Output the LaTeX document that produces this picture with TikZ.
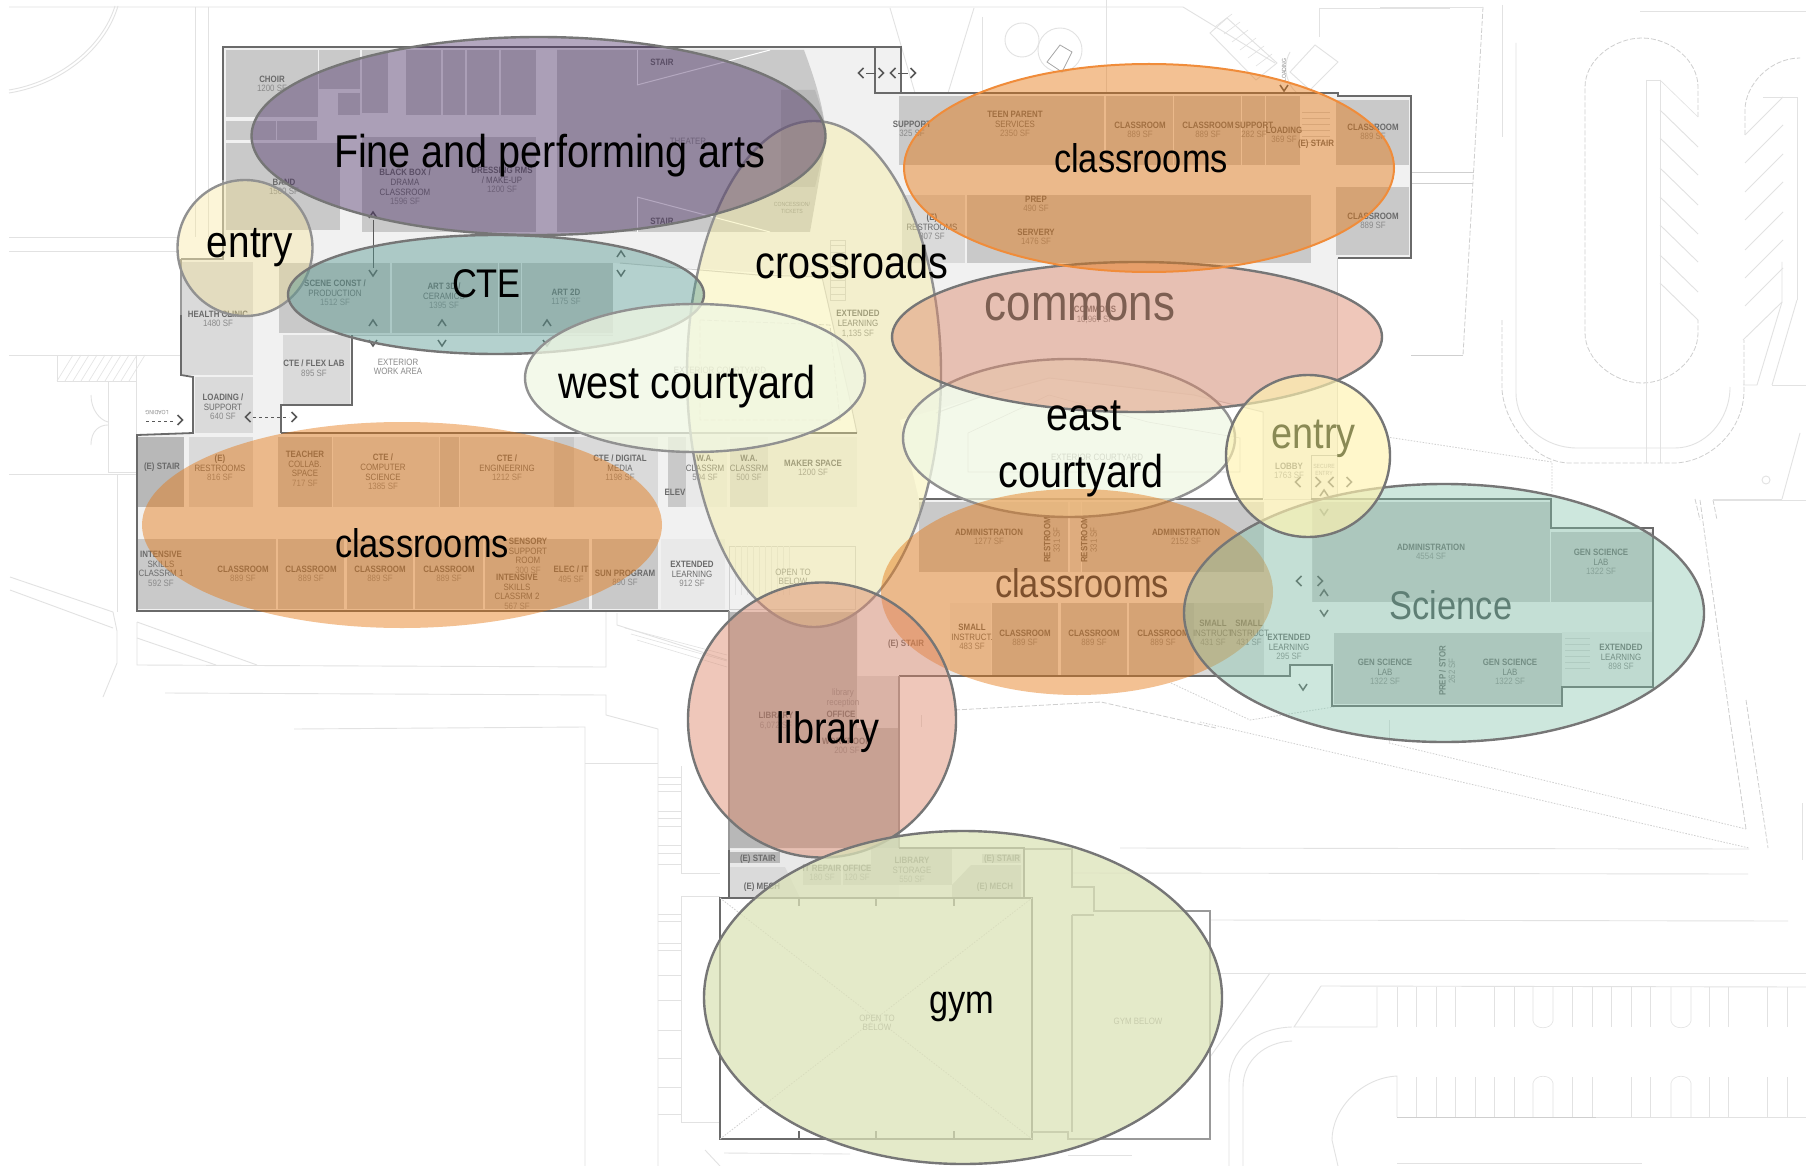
\documentclass[tikz,border=0pt]{standalone}
\usepackage{fontspec}
\setmainfont{Liberation Sans}
\newfontfamily\plf[FakeStretch=0.86]{Liberation Sans}
\newcounter{lc}
\definecolor{sfgray}{HTML}{8A8A8A}
\definecolor{namegray}{HTML}{6A6A6A}
\definecolor{site}{HTML}{E2E2E2}
\definecolor{sitedk}{HTML}{CFCFCF}
\definecolor{wallc}{HTML}{6A6A6A}
\definecolor{floorc}{HTML}{F1F1F1}
\definecolor{rma}{HTML}{C9C9C9}
\definecolor{rmb}{HTML}{DADADA}
\definecolor{rmc}{HTML}{E9E9E9}
\definecolor{rmd}{HTML}{B8B8B8}
\definecolor{zfine}{HTML}{432560}
\definecolor{zentry}{HTML}{F8E389}
\definecolor{zentryb}{HTML}{FFF3B0}
\definecolor{zcross}{HTML}{F7EE98}
\definecolor{zcte}{HTML}{569890}
\definecolor{zcourt}{HTML}{F0F7E3}
\definecolor{zclass}{HTML}{E57610}
\definecolor{zred}{HTML}{DC8568}
\definecolor{zsci}{HTML}{82C5AC}
\definecolor{zgym}{HTML}{DCE3B8}
\definecolor{zedge}{HTML}{767676}
\definecolor{zorange}{HTML}{F08C3A}
\tikzset{
  siteline/.style={draw=site,line width=0.9pt},
  sitedash/.style={draw=sitedk,line width=0.8pt,dash pattern=on 5pt off 2pt},
  sitedot/.style={draw=sitedk,line width=0.8pt,dash pattern=on 1.5pt off 1.5pt},
  thinline/.style={draw=site,line width=0.6pt},
  wall/.style={draw=wallc,line width=1.8pt,line join=miter},
  softwall/.style={draw=black!40,line width=1.4pt},
  pale/.style={draw=sitedk,line width=1pt},
  chev/.style={draw=black!65,line width=1.5pt,line join=miter},
  roomtxt/.style={font=\plf\fontsize{9.2}{9.6}\selectfont,align=center,inner sep=0pt,text=namegray},
  tinytxt/.style={font=\plf\fontsize{6}{7}\selectfont,align=center,inner sep=0pt,text=sfgray},
  bigtxt/.style={anchor=base,inner sep=0pt},
  zone/.style={draw=zedge,line width=2.4pt,fill opacity=#1},
  zone/.default=0.45
}
\newcommand\rmbox[5]{\fill[#5] (#1,#2) rectangle (#3,#4);}
\newcommand\lbl[4]{\stepcounter{lc}\node[roomtxt] (r\arabic{lc}) at (#1,#2) {\bfseries #3\\\mdseries\color{sfgray}#4};}
\newcommand\lbn[3]{\stepcounter{lc}\node[roomtxt] (r\arabic{lc}) at (#1,#2) {\bfseries #3};}
\newcommand\lbv[4]{\stepcounter{lc}\node[roomtxt,rotate=90] (r\arabic{lc}) at (#1,#2) {\bfseries #3\\\mdseries\color{sfgray}#4};}
\newcommand\lbg[3]{\stepcounter{lc}\node[roomtxt,text=sfgray] (r\arabic{lc}) at (#1,#2) {#3};}
\newcommand\zlab[6]{\node[bigtxt,text=#5] (#6) at (#1,#2) {\plf\fontsize{#3}{#3}\selectfont #4};}
\newcommand\chU[2]{\draw[chev] (#1-4,#2+3) -- (#1,#2-3) -- (#1+4,#2+3);}
\newcommand\chD[2]{\draw[chev] (#1-4,#2-3) -- (#1,#2+3) -- (#1+4,#2-3);}
\newcommand\chL[2]{\draw[chev] (#1+2.5,#2-5) -- (#1-2.5,#2) -- (#1+2.5,#2+5);}
\newcommand\chR[2]{\draw[chev] (#1-2.5,#2-5) -- (#1+2.5,#2) -- (#1-2.5,#2+5);}
\begin{document}
\begin{tikzpicture}[x=1pt,y=-1pt]
\useasboundingbox (0,0) rectangle (1806,1166);
\fill[white] (0,0) rectangle (1806,1166);

% ---- site lines
\draw[siteline] (9,7) -- (1183,7) -- (1275,63);
\draw[siteline] (9,93) .. controls (60,85) and (105,50) .. (118,6);
\draw[siteline] (9,90) .. controls (58,82) and (102,48) .. (115,6);
\draw[siteline] (195,7) -- (195,237);
\draw[siteline] (208,7) -- (208,237);
\draw[siteline] (9,237) -- (177,237);
\draw[siteline] (9,251) -- (177,251);
\draw[siteline] (9,355) -- (180,355);
\draw[siteline] (57,355) rectangle (136,381);
\foreach \i in {0,8,...,72} {\draw[thinline] (57+\i,381) -- (57+\i+16,355);}
\draw[thinline] (108,381) rectangle (136,472);
\draw[siteline] (9,474) -- (136,474);
\draw[siteline] (117,474) -- (117,612);
\draw[siteline] (91,395) .. controls (91,410) and (100,420) .. (108,422);
\draw[siteline] (91,445) .. controls (91,430) and (100,425) .. (108,425);
\draw[siteline] (10,577) -- (113,612) -- (117,631) -- (117,663) -- (103,697);
\draw[siteline] (10,590) -- (113,628);
\draw[siteline] (137,622) -- (257,665);
\draw[siteline] (137,638) -- (216,665);
\draw[siteline] (137,622) -- (137,665) -- (606,667) -- (606,611);
\draw[siteline] (165,693) -- (606,695) -- (606,715) -- (658,729) -- (658,1166);
\draw[siteline] (294,729) -- (585,727) -- (585,1166);
\draw[siteline] (585,763) -- (658,763);
\draw[siteline] (681,766) -- (681,873) -- (720,873);
\draw[siteline] (681,896) -- (720,896);
\draw[siteline] (681,896) -- (681,1122) -- (720,1122);
\foreach \y in {777,784,791,811,818,826,845,853,864,914,921,943,950,975,1000,1030,1058,1087,1114} {\draw[thinline] (658,\y) -- (681,\y);}
\draw[siteline] (617,613) -- (617,625) -- (727,660);
\foreach \i in {0,6,12} {\draw[thinline] (625+\i,628+\i) -- (727,655+\i);}
\draw[siteline] (724,1153) -- (850,1154);
\draw[siteline] (705,1150) -- (720,1166);
\draw[siteline] (1068,1155) -- (1132,1155);
% top trees, hatch
\draw[siteline] (890,8) -- (915,93);
\draw[siteline] (974,8) -- (948,93);
\draw[siteline] (982,17) -- (982,93);
\draw[siteline] (1106,0) -- (1106,93);
\draw[siteline] (1022,40) circle (17pt);
\draw[siteline] (1060,50) circle (22pt);
\draw[draw=black!35,line width=0.8pt] (1047,62) -- (1060,45) -- (1072,52) -- (1062,72) -- cycle;
\draw[siteline] (1227,18) -- (1277,63) -- (1256,80) -- (1210,33) -- cycle;
\foreach \i in {0,8,...,40} {\draw[thinline] (1216+\i,26+\i) -- (1232+\i,14+\i);}
\draw[siteline] (1319,8) -- (1319,37);
\draw[siteline] (1319,8) -- (1450,8);
\draw[siteline] (1315,45) -- (1338,62) -- (1310,90) -- (1290,72) -- cycle;
\draw[siteline] (1290,52) .. controls (1280,70) and (1290,90) .. (1300,95);
% dashed east
\draw[sitedash] (1483,7) -- (1463,355);
\draw[siteline] (1380,7) -- (1483,7);
\draw[sitedk,line width=0.9pt] (1411,355) -- (1463,355);
\draw[sitedk,line width=0.9pt] (1412,172) -- (1474,172);
\draw[sitedk,line width=0.9pt] (1412,183) -- (1473,183);
\draw[siteline] (1640,11) -- (1806,11);
% parking U
\draw[sitedash] (1698,117) -- (1698,87) .. controls (1698,60) and (1670,38) .. (1642,38) .. controls (1614,38) and (1585,60) .. (1585,87) -- (1585,333) .. controls (1585,360) and (1614,383) .. (1642,383) .. controls (1670,383) and (1698,360) .. (1698,333) -- (1698,320);
\draw[siteline] (1646,80) -- (1646,463);
\draw[siteline] (1660,80) -- (1660,463);
\draw[siteline] (1646,80) -- (1660,80);
\draw[thinline] (1660,80) -- (1698,117);
\foreach \y in {110,138,168,197,225,255,283} {\draw[siteline] (1660,\y) -- (1698,\y+37);}
\draw[sitedash] (1745,135) -- (1745,110) .. controls (1745,85) and (1770,58) .. (1800,58);
\foreach \y in {135,163,192,220,250,278,306} {\draw[siteline] (1745,\y) -- (1783,\y-38);}
\draw[siteline] (1743,340) -- (1782,302) -- (1782,262);
\draw[siteline] (1763,97) -- (1797,97) -- (1797,300);
\draw[siteline] (1743,385) -- (1757,385) -- (1782,302);
\draw[siteline] (1772,385) -- (1797,300);
\draw[siteline] (1772,385) -- (1806,385);
% big road
\draw[siteline] (1516,43) -- (1516,393) .. controls (1516,425) and (1545,448) .. (1577,448) -- (1675,448) .. controls (1705,448) and (1730,420) .. (1730,387);
\draw[siteline] (1502,5) -- (1502,137);
\draw[sitedash] (1502,320) -- (1502,390) .. controls (1505,425) and (1535,463) .. (1570,463) -- (1673,463) .. controls (1710,463) and (1744,430) .. (1744,390) -- (1744,340);
\draw[sitedot] (1387,437) -- (1552,462) -- (1552,493);
\draw[siteline] (1782,499) -- (1713,499);
\draw[siteline] (1782,499) -- (1800,433);
\draw[sitedash] (1695,499) -- (1700,520);
\draw[sitedash] (1713,500) -- (1717,520);
\draw[siteline] (1766,480) circle (4pt);
% south-east
\draw[sitedot] (1200,722) -- (1749,848);
\draw[sitedot] (1389,743) -- (1746,829);
\draw[siteline] (1389,720) -- (1389,743);
\draw[sitedash] (1730,720) -- (1746,829);
\draw[sitedash] (1746,700) -- (1768,848);
\draw[siteline] (1120,848) -- (1749,849);
\draw[siteline] (1072,873) -- (1748,874);
\draw[siteline] (1210,920) -- (1788,921);
\draw[siteline] (1210,973) -- (1806,973);
\draw[siteline] (1802,803) -- (1802,860);
\draw[siteline] (1270,973) -- (1210,1057);
\draw[siteline] (1321,986) -- (1806,987);
\draw[siteline] (1321,986) -- (1294,1027) -- (1377,1027) -- (1377,987);
\foreach \x in {1397,1416,1436,1455,1494,1514,1572,1592,1611,1631,1650,1709,1728,1767,1787} {\draw[thinline] (\x,987) -- (\x,1027);}
\draw[thinline] (1533,987) -- (1533,1021) .. controls (1535,1030) and (1551,1030) .. (1553,1021) -- (1553,987);
\draw[thinline] (1671,987) -- (1671,1021) .. controls (1673,1030) and (1689,1030) .. (1691,1021) -- (1691,987);
\draw[sitedk,line width=0.9pt] (1397,1117) -- (1596,1117);
\draw[siteline] (1596,1117) -- (1806,1117);
\foreach \x in {1416,1436,1455,1475,1494,1514,1572,1592,1631,1650,1709,1728,1767,1787} {\draw[thinline] (\x,1077) -- (\x,1117);}
\draw[thinline] (1533,1117) -- (1533,1083) .. controls (1535,1074) and (1551,1074) .. (1553,1083) -- (1553,1117);
\draw[thinline] (1671,1117) -- (1671,1083) .. controls (1673,1074) and (1689,1074) .. (1691,1083) -- (1691,1117);
\draw[siteline] (1397,1117) -- (1397,1076) .. controls (1360,1078) and (1332,1110) .. (1332,1140) -- (1338,1166);
\draw[siteline] (1292,1027) .. controls (1255,1028) and (1229,1050) .. (1229,1083) -- (1229,1166);
\draw[siteline] (1292,1041) .. controls (1265,1042) and (1243,1060) .. (1243,1087) -- (1243,1166);
\draw[siteline] (1397,1163) -- (1642,1163);
\draw[sitedash] (955,710) -- (1101,702) -- (1216,728);
\draw[siteline] (921,715) -- (921,727);
\draw[sitedot] (1171,683) -- (1250,720) -- (1340,706);
\draw[siteline] (1714,500) -- (1806,500);
\draw[sitedash] (1700,500) -- (1730,720);

% ---- building floor
\fill[floorc] (223,47) -- (901,47) -- (901,93) -- (1338,93) -- (1338,96) -- (1411,96) -- (1411,258) -- (1337,258) -- (1337,499) -- (1551,499) -- (1551,528) -- (1653,528) -- (1653,687) -- (1562,687) -- (1562,706) -- (1332,706) -- (1332,665) -- (1290,665) -- (1290,676) -- (899,676) -- (899,848) -- (1024,848) -- (1024,898) -- (729,898) -- (729,611) -- (137,611) -- (137,435) -- (193,433) -- (193,377) -- (181,375) -- (181,259) -- (223,259) -- cycle;
% courtyards
\fill[white] (613,263) -- (822,277) -- (857,433) -- (281,433) -- (281,405) -- (352,405) -- (352,335) -- (613,335) -- cycle;
\fill[white] (900,420) -- (980,397) -- (1049,378) -- (1194,395) -- (1263,412) -- (1263,499) -- (919,499) -- cycle;
\fill[white] (720,898) rectangle (1032,1139);
\fill[white] (1024,849) rectangle (1072,1132);

% ---- north wing rooms
\rmbox{226}{50}{318}{117}{rma}
\rmbox{319}{50}{360}{89}{rma}
\rmbox{362}{50}{388}{113}{rma}
\rmbox{338}{93}{360}{115}{rma}
\rmbox{406}{50}{441}{115}{rma}
\rmbox{443}{50}{465}{115}{rma}
\rmbox{467}{50}{499}{115}{rma}
\rmbox{501}{50}{536}{115}{rma}
\rmbox{226}{121}{276}{140}{rma}
\rmbox{277}{121}{317}{140}{rma}
\rmbox{226}{143}{340}{230}{rma}
\rmbox{362}{137}{536}{232}{rma}
\fill[rma] (557,50) -- (804,50) .. controls (815,80) and (825,110) .. (826,140) -- (810,232) -- (557,232) -- cycle;
\fill[rmd] (781,90) -- (815,90) .. controls (822,110) and (826,125) .. (826,140) -- (815,187) -- (781,187) -- cycle;
\draw[white,line width=1pt] (637,85) -- (770,50);
\draw[white,line width=1pt] (637,197) -- (770,232);
\draw[white,line width=1pt] (637,50) -- (637,85);
\draw[white,line width=1pt] (637,197) -- (637,232);
% CTE wing
\rmbox{279}{263}{390}{333}{rma}
\rmbox{392}{263}{498}{333}{rma}
\rmbox{499}{263}{521}{333}{rma}
\rmbox{522}{263}{613}{333}{rma}
\rmbox{182}{262}{253}{375}{rmb}
\rmbox{195}{377}{253}{433}{rmb}
\rmbox{283}{335}{350}{405}{rmb}
\rmbox{253}{262}{279}{433}{floorc}
% west wing
\rmbox{138}{437}{184}{507}{rmd}
\rmbox{189}{437}{253}{507}{rmb}
\rmbox{278}{437}{332}{507}{rma}
\rmbox{333}{437}{439}{507}{rmb}
\rmbox{440}{437}{459}{507}{rma}
\rmbox{460}{437}{554}{507}{rmb}
\rmbox{554}{437}{574}{507}{rma}
\rmbox{574}{437}{658}{507}{rmb}
\rmbox{668}{437}{686}{507}{rma}
\rmbox{686}{437}{727}{507}{rmc}
\rmbox{730}{437}{768}{507}{rmb}
\rmbox{768}{437}{857}{507}{rmc}
\rmbox{138}{539}{184}{609}{rma}
\rmbox{184}{539}{209}{609}{rma}
\rmbox{209}{539}{276}{609}{rma}
\rmbox{278}{539}{344}{609}{rma}
\rmbox{347}{539}{413}{609}{rma}
\rmbox{415}{539}{483}{609}{rma}
\rmbox{485}{539}{554}{609}{rma}
\rmbox{554}{539}{589}{609}{rma}
\rmbox{592}{539}{658}{609}{rma}
\rmbox{661}{539}{725}{609}{rmc}
\rmbox{729}{540}{855}{609}{floorc}
\draw[sitedk,line width=0.9pt] (729,546) rectangle (855,609);
\foreach \x in {735,741,...,790} {\draw[thinline] (\x,546) -- (\x,595);}
% north-east
\rmbox{899}{96}{925}{165}{rma}
\rmbox{925}{96}{1104}{165}{rma}
\rmbox{1106}{96}{1173}{165}{rma}
\rmbox{1174}{96}{1241}{165}{rma}
\rmbox{1242}{96}{1265}{165}{rma}
\rmbox{1266}{96}{1300}{165}{rma}
\rmbox{1336}{100}{1409}{165}{rma}
\rmbox{902}{195}{965}{263}{rmb}
\rmbox{967}{195}{1311}{263}{rma}
\rmbox{1336}{187}{1409}{255}{rma}
\foreach \y in {112,118,...,145} {\draw[thinline,draw=sitedk] (1302,\y) -- (1330,\y);}
% middle south
\rmbox{919}{502}{1045}{572}{rma}
\rmbox{1045}{502}{1068}{572}{rma}
\rmbox{1070}{502}{1081}{572}{rmb}
\rmbox{1082}{502}{1103}{572}{rma}
\rmbox{1103}{502}{1264}{572}{rma}
\rmbox{950}{603}{991}{675}{rmc}
\rmbox{992}{603}{1058}{675}{rma}
\rmbox{1061}{603}{1127}{675}{rma}
\rmbox{1129}{603}{1194}{675}{rma}
\rmbox{1194}{603}{1264}{675}{rmb}
% science
\rmbox{1312}{502}{1550}{602}{rma}
\rmbox{1551}{532}{1652}{602}{rma}
\rmbox{1334}{633}{1437}{704}{rma}
\rmbox{1437}{633}{1458}{704}{rma}
\rmbox{1458}{633}{1562}{704}{rma}
\rmbox{1562}{632}{1652}{687}{rmc}
\rmbox{1290}{610}{1312}{662}{floorc}
\draw[thinline,draw=sitedk] (1312,502) -- (1312,602);
\draw[draw=black!35,line width=0.8pt] (1311,455) rectangle (1337,499);
% library etc
\fill[rmd] (729,612) -- (857,612) -- (857,728) -- (899,728) -- (899,848) -- (729,848) -- cycle;
\rmbox{857}{676}{899}{728}{rmb}
\rmbox{729}{850}{899}{898}{rmc}
\rmbox{730}{852}{780}{863}{rmd}
\fill[rmb] (730,867) -- (785,867) -- (800,898) -- (730,898) -- cycle;
\rmbox{803}{865}{841}{885}{rma}
\rmbox{843}{865}{871}{885}{rma}
\rmbox{871}{848}{952}{885}{rma}
\fill[rma] (952,898) -- (952,885) -- (971,865) -- (1021,865) -- (1021,898) -- cycle;
\rmbox{982}{854}{1021}{863}{rma}

% ---- courtyard & pale lines
\draw[pale] (620,263) -- (758,275) -- (822,277) -- (850,400) -- (857,433);
\draw[pale] (352,335) -- (613,335);
\draw[sitedash] (700,320) -- (830,325) -- (840,420) -- (700,420) -- cycle;
\draw[pale] (936,413) -- (980,397) -- (1049,378) -- (1194,395) -- (1263,412) -- (1263,498);
\draw[thinline,draw=sitedk] (968,433) -- (968,472) -- (1240,472) -- (1240,438) -- (1148,422) -- (1049,395) -- cycle;
\draw[thinline,draw=sitedk] (830,240) -- (845,240) -- (845,300) -- (830,300) -- cycle;
\foreach \y in {245,252,...,295} {\draw[thinline,draw=sitedk] (830,\y) -- (845,\y);}
\draw[pale] (1337,258) -- (1337,499);
\draw[pale] (1264,499) -- (1311,499);
\foreach \y in {638,644,...,670} {\draw[thinline,draw=sitedk] (1565,\y) -- (1590,\y);}
% gym
\draw[wall] (720,898) -- (1032,898) -- (1032,1139) -- (720,1139) -- cycle;
\draw[wall] (720,898) -- (729,898);
\foreach \x in {799,876,954} {\draw[wall,line width=1.2pt] (\x,898) -- (\x,906); \draw[wall,line width=1.2pt] (\x,1131) -- (\x,1139);}
\draw[sitedot] (720,898) -- (1032,1139);
\draw[sitedot] (720,1139) -- (1032,898);
\draw[draw=black!40,line width=1.1pt] (1024,849) -- (1072,849) -- (1072,887) -- (1094,887) -- (1094,911) -- (1210,911) -- (1210,1139) -- (1068,1139) -- (1068,1132) -- (1032,1132);
\draw[draw=black!40,line width=1.1pt] (1072,915) -- (1094,915);
\draw[draw=black!40,line width=1.1pt] (1072,915) -- (1072,1132);

% ---- outer walls
\draw[softwall] (181,259) -- (223,259) -- (223,180);
\draw[wall] (223,180) -- (223,47) -- (901,47) -- (901,93) -- (1338,93) -- (1338,96) -- (1411,96) -- (1411,258) -- (1338,258);
\draw[wall] (875,47) -- (875,93) -- (901,93);
\draw[wall] (181,315) -- (181,375) -- (193,377) -- (193,433) -- (137,435) -- (137,611) -- (729,611);
\draw[softwall] (181,259) -- (181,315);
\draw[softwall] (729,611) -- (729,850);
\draw[wall] (729,850) -- (729,898);
\draw[wall] (281,433) -- (857,433);
\draw[wall] (281,433) -- (281,405) -- (352,405) -- (352,335);
\draw[wall] (919,499) -- (1263,499);
\draw[wall] (1311,499) -- (1551,499) -- (1551,528) -- (1653,528) -- (1653,687) -- (1562,687) -- (1562,706) -- (1332,706) -- (1332,665) -- (1290,665) -- (1290,676) -- (899,676);
\draw[softwall] (899,676) -- (899,848);
\draw[wall] (899,848) -- (1024,848) -- (1024,898);

% ---- chevrons
\chL{861}{73}\chR{881}{73}\chL{893}{73}\chR{913}{73}
\draw[chev,line width=0.7pt] (866,73) -- (876,73); \draw[chev,line width=0.7pt] (898,73) -- (908,73);
\chU{621}{254}\chD{621}{273}\chU{373}{215}\chD{373}{273}
\draw[chev,line width=0.7pt] (373,220) -- (373,268);
\chU{373}{323}\chU{442}{323}\chU{547}{323}\chD{373}{343}\chD{442}{343}\chD{547}{343}
\chL{248}{417}\chR{294}{417}
\draw[chev,line width=0.9pt,dashed] (253,417) -- (289,417);
\chR{180}{420}
\draw[chev,line width=0.9pt,dashed] (146,421) -- (175,421);
\chL{1298}{482}\chR{1318}{482}\chL{1331}{482}\chR{1349}{482}
\chU{1324}{493}\chD{1324}{512}
\chL{1299}{581}\chR{1320}{581}\chU{1324}{593}\chD{1324}{613}
\chD{1303}{687}
\chD{1284}{88}

% ---- room labels
\lbl{272}{84}{CHOIR}{1200 SF}
\lbl{284}{187}{BAND}{1500 SF}
\lbl{405}{187}{BLACK BOX /\\DRAMA\\CLASSROOM}{1596 SF}
\lbl{502}{180}{DRESSING RMS\\/ MAKE-UP}{1200 SF}
\lbg{688}{141}{THEATER}
\lbn{662}{62}{STAIR}
\lbn{662}{221}{STAIR}
\lbl{335}{293}{SCENE CONST /\\PRODUCTION}{1512 SF}
\lbl{444}{296}{ART 3D /\\CERAMICS}{1395 SF}
\lbl{566}{297}{ART 2D}{1175 SF}
\lbl{218}{319}{HEALTH CLINIC}{1480 SF}
\lbl{314}{368}{CTE / FLEX LAB}{895 SF}
\lbg{398}{367}{EXTERIOR\\WORK AREA}
\lbl{223}{407}{LOADING /\\SUPPORT}{640 SF}
\lbl{858}{324}{EXTENDED\\LEARNING}{1,135 SF}
\lbg{720}{370}{EXTERIOR COURTYARD}
\node[tinytxt] (rConc) at (792,208) {CONCESSION/\\TICKETS};
\node[tinytxt,rotate=180] (rLoadW) at (157,413) {LOADING};
\node[tinytxt,rotate=90] (rLoadN) at (1284,70) {LOADING};
\lbl{912}{129}{SUPPORT}{325 SF}
\lbl{1015}{124}{TEEN PARENT\\SERVICES}{2350 SF}
\lbl{1140}{130}{CLASSROOM}{889 SF}
\lbl{1208}{130}{CLASSROOM}{889 SF}
\lbl{1254}{130}{SUPPORT}{282 SF}
\lbl{1284}{135}{LOADING}{369 SF}
\lbn{1316}{144}{(E) STAIR}
\lbl{1373}{132}{CLASSROOM}{889 SF}
\lbl{1373}{221}{CLASSROOM}{889 SF}
\lbl{1036}{204}{PREP}{490 SF}
\lbl{1036}{237}{SERVERY}{1476 SF}
\lbl{932}{227}{(E)\\RESTROOMS}{807 SF}
\lbl{1095}{315}{COMMONS}{10,967 SF}
\lbn{162}{467}{(E) STAIR}
\lbl{220}{468}{(E)\\RESTROOMS}{816 SF}
\lbl{305}{469}{TEACHER\\COLLAB.\\SPACE}{717 SF}
\lbl{383}{472}{CTE /\\COMPUTER\\SCIENCE}{1385 SF}
\lbl{507}{468}{CTE /\\ENGINEERING}{1212 SF}
\lbl{620}{468}{CTE / DIGITAL\\MEDIA}{1198 SF}
\lbl{705}{468}{W.A.\\CLASSRM}{504 SF}
\lbl{749}{468}{W.A.\\CLASSRM}{500 SF}
\lbl{813}{468}{MAKER SPACE}{1200 SF}
\lbn{675}{492}{ELEV}
\lbl{161}{569}{INTENSIVE\\SKILLS\\CLASSRM 1}{592 SF}
\lbl{243}{574}{CLASSROOM}{889 SF}
\lbl{311}{574}{CLASSROOM}{889 SF}
\lbl{380}{574}{CLASSROOM}{889 SF}
\lbl{449}{574}{CLASSROOM}{889 SF}
\lbl{528}{556}{SENSORY\\SUPPORT\\ROOM}{300 SF}
\lbl{517}{592}{INTENSIVE\\SKILLS\\CLASSRM 2}{567 SF}
\lbl{571}{574}{ELEC / IT}{495 SF}
\lbl{625}{578}{SUN PROGRAM}{890 SF}
\lbl{692}{574}{EXTENDED\\LEARNING}{912 SF}
\lbg{793}{577}{OPEN TO\\BELOW}
\lbn{906}{644}{(E) STAIR}
\lbl{989}{537}{ADMINISTRATION}{1277 SF}
\lbv{1052}{540}{RESTROOM}{331 SF}
\lbv{1089}{540}{RESTROOM}{331 SF}
\lbl{1186}{537}{ADMINISTRATION}{2152 SF}
\lbg{1097}{457}{EXTERIOR COURTYARD}
\lbl{1289}{471}{LOBBY}{1763 SF}
\node[tinytxt] (rSec) at (1324,470) {SECURE\\ENTRY};
\lbl{1431}{552}{ADMINISTRATION}{4554 SF}
\lbl{1601}{562}{GEN SCIENCE\\LAB}{1322 SF}
\lbl{972}{637}{SMALL\\INSTRUCT.}{483 SF}
\lbl{1025}{638}{CLASSROOM}{889 SF}
\lbl{1094}{638}{CLASSROOM}{889 SF}
\lbl{1163}{638}{CLASSROOM}{889 SF}
\lbl{1213}{633}{SMALL\\INSTRUCT}{431 SF}
\lbl{1249}{633}{SMALL\\INSTRUCT}{431 SF}
\lbl{1289}{647}{EXTENDED\\LEARNING}{295 SF}
\lbl{1385}{672}{GEN SCIENCE\\LAB}{1322 SF}
\lbl{1510}{672}{GEN SCIENCE\\LAB}{1322 SF}
\lbv{1447}{671}{PREP / STOR}{262 SF}
\lbl{1621}{657}{EXTENDED\\LEARNING}{898 SF}
\lbl{776}{721}{LIBRARY}{6,072 SF}
\lbg{843}{698}{library\\reception}
\lbn{841}{714}{OFFICE}
\lbl{847}{746}{WORKROOM}{200 SF}
\lbn{758}{859}{(E) STAIR}
\lbn{1002}{859}{(E) STAIR}
\lbn{762}{887}{(E) MECH}
\lbn{995}{887}{(E) MECH}
\lbl{822}{873}{IT REPAIR}{180 SF}
\lbl{857}{873}{OFFICE}{120 SF}
\lbl{912}{870}{LIBRARY\\STORAGE}{550 SF}
\lbg{877}{1023}{OPEN TO\\BELOW}
\lbg{1138}{1021}{GYM BELOW}

% ---- zones and their labels
\draw[zone=0.4,draw=zedge!80,fill=zcross] (814,374) ellipse [x radius=127pt,y radius=253pt];
\draw[zone=0.4,fill=zfine] (538.5,136) ellipse [x radius=287pt,y radius=99pt];
\draw[zone=0.33,draw=zedge!80,fill=zentry] (245,248) ellipse [x radius=67.5pt,y radius=68pt];
\draw[zone=0.44,fill=zcte] (496,294.5) ellipse [x radius=208pt,y radius=59.5pt];
\draw[zone=0.75,draw=zedge!80,fill=zcourt] (695,378) ellipse [x radius=170pt,y radius=74pt];
\fill[fill=zclass,fill opacity=0.45] (402,525) ellipse [x radius=260pt,y radius=103pt];
\draw[zone=0.75,draw=zedge!80,fill=zcourt] (1069,438) ellipse [x radius=166pt,y radius=79pt];
\draw[zone=0.45,fill=zred] (1137,337) ellipse [x radius=245pt,y radius=75pt];
\draw[zone=0.45,draw=zorange,line width=2pt,fill=zclass] (1149,168) ellipse [x radius=245pt,y radius=104pt];
\fill[fill=zclass,fill opacity=0.45] (1077,592) ellipse [x radius=196pt,y radius=103pt];
\draw[zone=0.4,fill=zsci] (1444,613) ellipse [x radius=260pt,y radius=129pt];
\draw[zone=0.65,draw=zedge,fill=zentryb] (1308,456) ellipse [x radius=82pt,y radius=81pt];
\draw[zone=0.45,fill=zred] (822,720) ellipse [x radius=134pt,y radius=137.5pt];
\draw[zone=0.75,fill=zgym] (963,997.5) ellipse [x radius=259pt,y radius=166.5pt];

\zlab{549.5}{168}{46}{Fine and performing arts}{black}{labFine}
\zlab{250}{258}{45}{entry}{black}{labEntryW}
\zlab{486.5}{297}{40}{CTE}{black}{labCTE}
\zlab{852}{279}{46}{crossroads}{black}{labCross}
\zlab{687}{398}{46}{west courtyard}{black}{labWest}
\zlab{1141}{173}{40}{classrooms}{black}{labClassN}
\zlab{1080}{320}{51}{commons}{{rgb,255:red,125;green,95;blue,82}}{labCommons}
\zlab{1084}{430}{46}{east}{black}{labEast}
\zlab{1081}{487}{46}{courtyard}{black}{labCourt}
\zlab{1313.5}{448}{44}{entry}{{rgb,255:red,138;green,138;blue,85}}{labEntryE}
\zlab{422}{557}{40}{classrooms}{black}{labClassW}
\zlab{1082}{597}{40}{classrooms}{{rgb,255:red,125;green,80;blue,45}}{labClassS}
\zlab{1451}{619}{40}{Science}{{rgb,255:red,95;green,127;blue,117}}{labSci}
\zlab{828}{743}{44}{library}{black}{labLib}
\zlab{962}{1013}{40}{gym}{black}{labGym}
\end{tikzpicture}
\end{document}
